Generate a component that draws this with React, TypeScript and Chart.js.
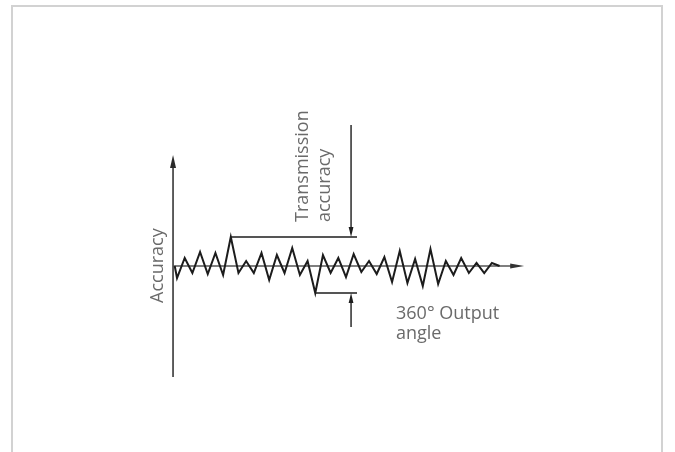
import React, { useEffect, useRef } from "react";
import { Chart, registerables } from "chart.js";

Chart.register(...registerables);

// Output angle steps (one step per zig-zag vertex) and the accuracy deviation at each step
const STEPS = [-0.3, 0, 1, 2, 3, 4, 5, 6, 7, 8, 9, 10, 11, 12, 13, 14, 15, 16, 17, 18, 19, 20, 21, 22, 23, 24, 25, 26, 27, 28, 29, 30, 31, 32, 33, 34, 35, 36, 37, 38, 39, 40, 41, 42];
const ACCURACY = [0, -12, 8, -7, 14, -8, 13, -9, 29, -7, 5, -7, 13, -14, 11, -7, 18, -9, 5, -27, 11, -7, 8, -11, 12, -6, 5, -8, 9, -16, 15, -17, 7, -20, 17, -18, 5, -9, 8, -7, 3, -7, 3, 0];

// Axis extents (in chart units)
const AXIS_X_START = -0.52;
const AXIS_X_END = 45.2;
const AXIS_Y_RANGE = 111;
// Dimension (transmission accuracy) marker
const DIM_X = 22.66;
const DIM_EXT_X = 23.44;
const DIM_TOP = 141;
const DIM_BOTTOM = -61;

const LABEL_ACCURACY = "Accuracy";
const LABEL_TRANSMISSION = ["Transmission", "accuracy"];
const LABEL_OUTPUT = ["360° Output", "angle"];

const TEXT_COLOR = "#6a6a6a";
const FONT = "400 18px 'Open Sans', 'DejaVu Sans', sans-serif";

function arrow(ctx: CanvasRenderingContext2D, tipX: number, tipY: number, dx: number, dy: number, len: number, half: number) {
  const bx = tipX - dx * len;
  const by = tipY - dy * len;
  const px = -dy * half;
  const py = dx * half;
  ctx.beginPath();
  ctx.moveTo(tipX, tipY);
  ctx.lineTo(bx + px, by + py);
  ctx.lineTo(bx - px, by - py);
  ctx.closePath();
  ctx.fill();
}

const drawingPlugin = {
  id: "drawing",
  beforeDatasetsDraw(chart: any) {
    const ctx: CanvasRenderingContext2D = chart.ctx;
    const xs = chart.scales.x;
    const ys = chart.scales.y;
    const x0 = xs.getPixelForValue(AXIS_X_START);
    const x1 = xs.getPixelForValue(AXIS_X_END);
    const yTop = ys.getPixelForValue(AXIS_Y_RANGE);
    const yBot = ys.getPixelForValue(-AXIS_Y_RANGE);
    const yZero = ys.getPixelForValue(0);
    ctx.save();
    // vertical accuracy axis
    ctx.strokeStyle = "#2a2a2a";
    ctx.fillStyle = "#2a2a2a";
    ctx.lineWidth = 1.5;
    ctx.beginPath();
    ctx.moveTo(x0, yBot);
    ctx.lineTo(x0, yTop + 6);
    ctx.stroke();
    arrow(ctx, x0, yTop, 0, -1, 13, 3);
    // horizontal angle axis
    ctx.strokeStyle = "#555";
    ctx.fillStyle = "#333";
    ctx.lineWidth = 1.5;
    ctx.beginPath();
    ctx.moveTo(x0, yZero);
    ctx.lineTo(x1 - 8, yZero);
    ctx.stroke();
    arrow(ctx, x1, yZero, 1, 0, 14, 2.6);

    // dimension lines
    let maxV = -Infinity, minV = Infinity, maxI = 0, minI = 0;
    ACCURACY.forEach((v, i) => {
      if (v > maxV) { maxV = v; maxI = i; }
      if (v < minV) { minV = v; minI = i; }
    });
    const dx = xs.getPixelForValue(DIM_X);
    const dex = xs.getPixelForValue(DIM_EXT_X);
    const yMax = ys.getPixelForValue(maxV);
    const yMin = ys.getPixelForValue(minV);
    ctx.strokeStyle = "#1e1e1e";
    ctx.fillStyle = "#1e1e1e";
    ctx.lineWidth = 1.4;
    ctx.beginPath();
    ctx.moveTo(xs.getPixelForValue(STEPS[maxI]), yMax);
    ctx.lineTo(dex, yMax);
    ctx.moveTo(xs.getPixelForValue(STEPS[minI]), yMin);
    ctx.lineTo(dex, yMin);
    ctx.moveTo(dx, ys.getPixelForValue(DIM_TOP));
    ctx.lineTo(dx, yMax - 4);
    ctx.moveTo(dx, ys.getPixelForValue(DIM_BOTTOM));
    ctx.lineTo(dx, yMin + 4);
    ctx.stroke();
    arrow(ctx, dx, yMax, 0, 1, 10, 2.4);
    arrow(ctx, dx, yMin, 0, -1, 10, 2.4);
    ctx.restore();
  },
  afterDatasetsDraw(chart: any) {
    const ctx: CanvasRenderingContext2D = chart.ctx;
    ctx.save();
    ctx.fillStyle = TEXT_COLOR;
    ctx.font = FONT;
    ctx.textAlign = "left";
    ctx.textBaseline = "alphabetic";
    const rot = (text: string, x: number, y: number) => {
      ctx.save();
      ctx.translate(x, y);
      ctx.rotate(-Math.PI / 2);
      ctx.fillText(text, 0, 0);
      ctx.restore();
    };
    rot(LABEL_ACCURACY, 163, 303);
    rot(LABEL_TRANSMISSION[0], 308, 222);
    rot(LABEL_TRANSMISSION[1], 330, 222);
    ctx.fillText(LABEL_OUTPUT[0], 396, 319);
    ctx.fillText(LABEL_OUTPUT[1], 396, 339);
    ctx.restore();
  },
};

export default function App() {
  const ref = useRef<HTMLCanvasElement | null>(null);
  useEffect(() => {
    if (!ref.current) return;
    const chart = new Chart(ref.current, {
      type: "line",
      data: {
        datasets: [
          {
            label: "Accuracy",
            data: STEPS.map((s, i) => ({ x: s, y: ACCURACY[i] })),
            borderColor: "#1c1c1c",
            borderWidth: 2,
            pointRadius: 0,
            tension: 0,
            fill: false,
          },
        ],
      },
      options: {
        animation: false,
        responsive: false,
        maintainAspectRatio: false,
        layout: { padding: 0 },
        plugins: { legend: { display: false }, tooltip: { enabled: false }, title: { display: false } },
        scales: {
          x: { type: "linear", display: false, min: -23.05, max: 64.84 },
          y: { type: "linear", display: false, min: -186, max: 266 },
        },
      },
      plugins: [drawingPlugin],
    });
    return () => chart.destroy();
  }, []);
  return (
    <div style={{ position: "fixed", left: 0, top: 0, width: 675, height: 452, background: "#fff", overflow: "hidden" }}>
      <div
        style={{
          position: "absolute",
          left: 11,
          top: 5,
          width: 652,
          height: 480,
          borderTop: "2px solid #d2d2d2",
          borderLeft: "2px solid #d2d2d2",
          borderRight: "2px solid #d2d2d2",
          boxSizing: "border-box",
        }}
      />
      <canvas ref={ref} width={675} height={452} style={{ position: "absolute", left: 0, top: 0, width: 675, height: 452 }} />
    </div>
  );
}
